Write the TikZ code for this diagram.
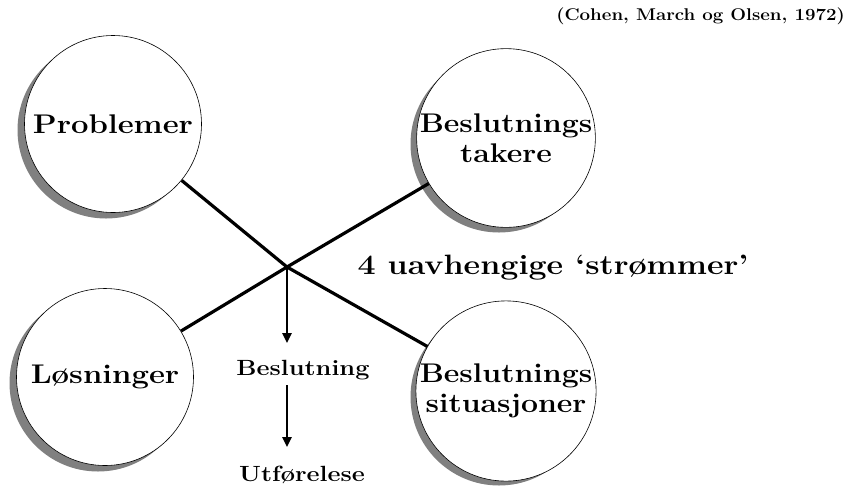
\documentclass[tikz,border=0pt]{standalone}
\usetikzlibrary{arrows.meta}
\newcommand\wideT[2][1.15]{\scalebox{#1}[1]{#2}}
\begin{document}
\begin{tikzpicture}[x=1pt,y=-1pt,
  bubble/.style={circle,draw=black,line width=0.6pt,fill=white,minimum size=177pt,inner sep=0pt,align=center,font=\fontsize{27}{30}\selectfont\bfseries},
  shadowc/.style={circle,fill=gray,minimum size=177pt,inner sep=0pt},
  stream/.style={line width=3.2pt},
  flow/.style={line width=2.4pt,-{Triangle[length=10pt,width=9pt]}},
  lbl/.style={font=\fontsize{22}{22}\selectfont\bfseries}]
\useasboundingbox (0,0) rectangle (848,491);
% shadows
\node[shadowc] at (106,130) {};
\node[shadowc] at (499,144) {};
\node[shadowc] at (98,383) {};
\node[shadowc] at (499,397) {};
% circles
\node[bubble] (prob) at (113,124) {\wideT{Problemer}};
\node[bubble] (tak) at (506,138) {\wideT[1.12]{Beslutnings}\\\wideT[1.12]{takere}};
\node[bubble] (los) at (105,377) {\wideT{Løsninger}};
\node[bubble] (sit) at (506,391) {\wideT[1.12]{Beslutnings}\\\wideT[1.12]{situasjoner}};
\coordinate (x) at (287,267);
\draw[stream] (prob) -- (x) -- (sit);
\draw[stream] (los) -- (x) -- (tak);
\node[lbl] (bes) at (303,370) {\wideT{Beslutning}};
\node[lbl] (utf) at (302,475) {\wideT{Utførelese}};
\draw[flow] (x) -- (287,343);
\draw[flow] (287,385) -- (287,447);
\node[font=\fontsize{28}{28}\selectfont\bfseries] (str) at (553,268) {\wideT{4 uavhengige ‘strømmer’}};
\node[font=\fontsize{17}{17}\selectfont\bfseries,anchor=east,inner sep=0pt] (cit) at (845,16) {\wideT[1.1]{(Cohen, March og Olsen, 1972)}};
\end{tikzpicture}
\end{document}
